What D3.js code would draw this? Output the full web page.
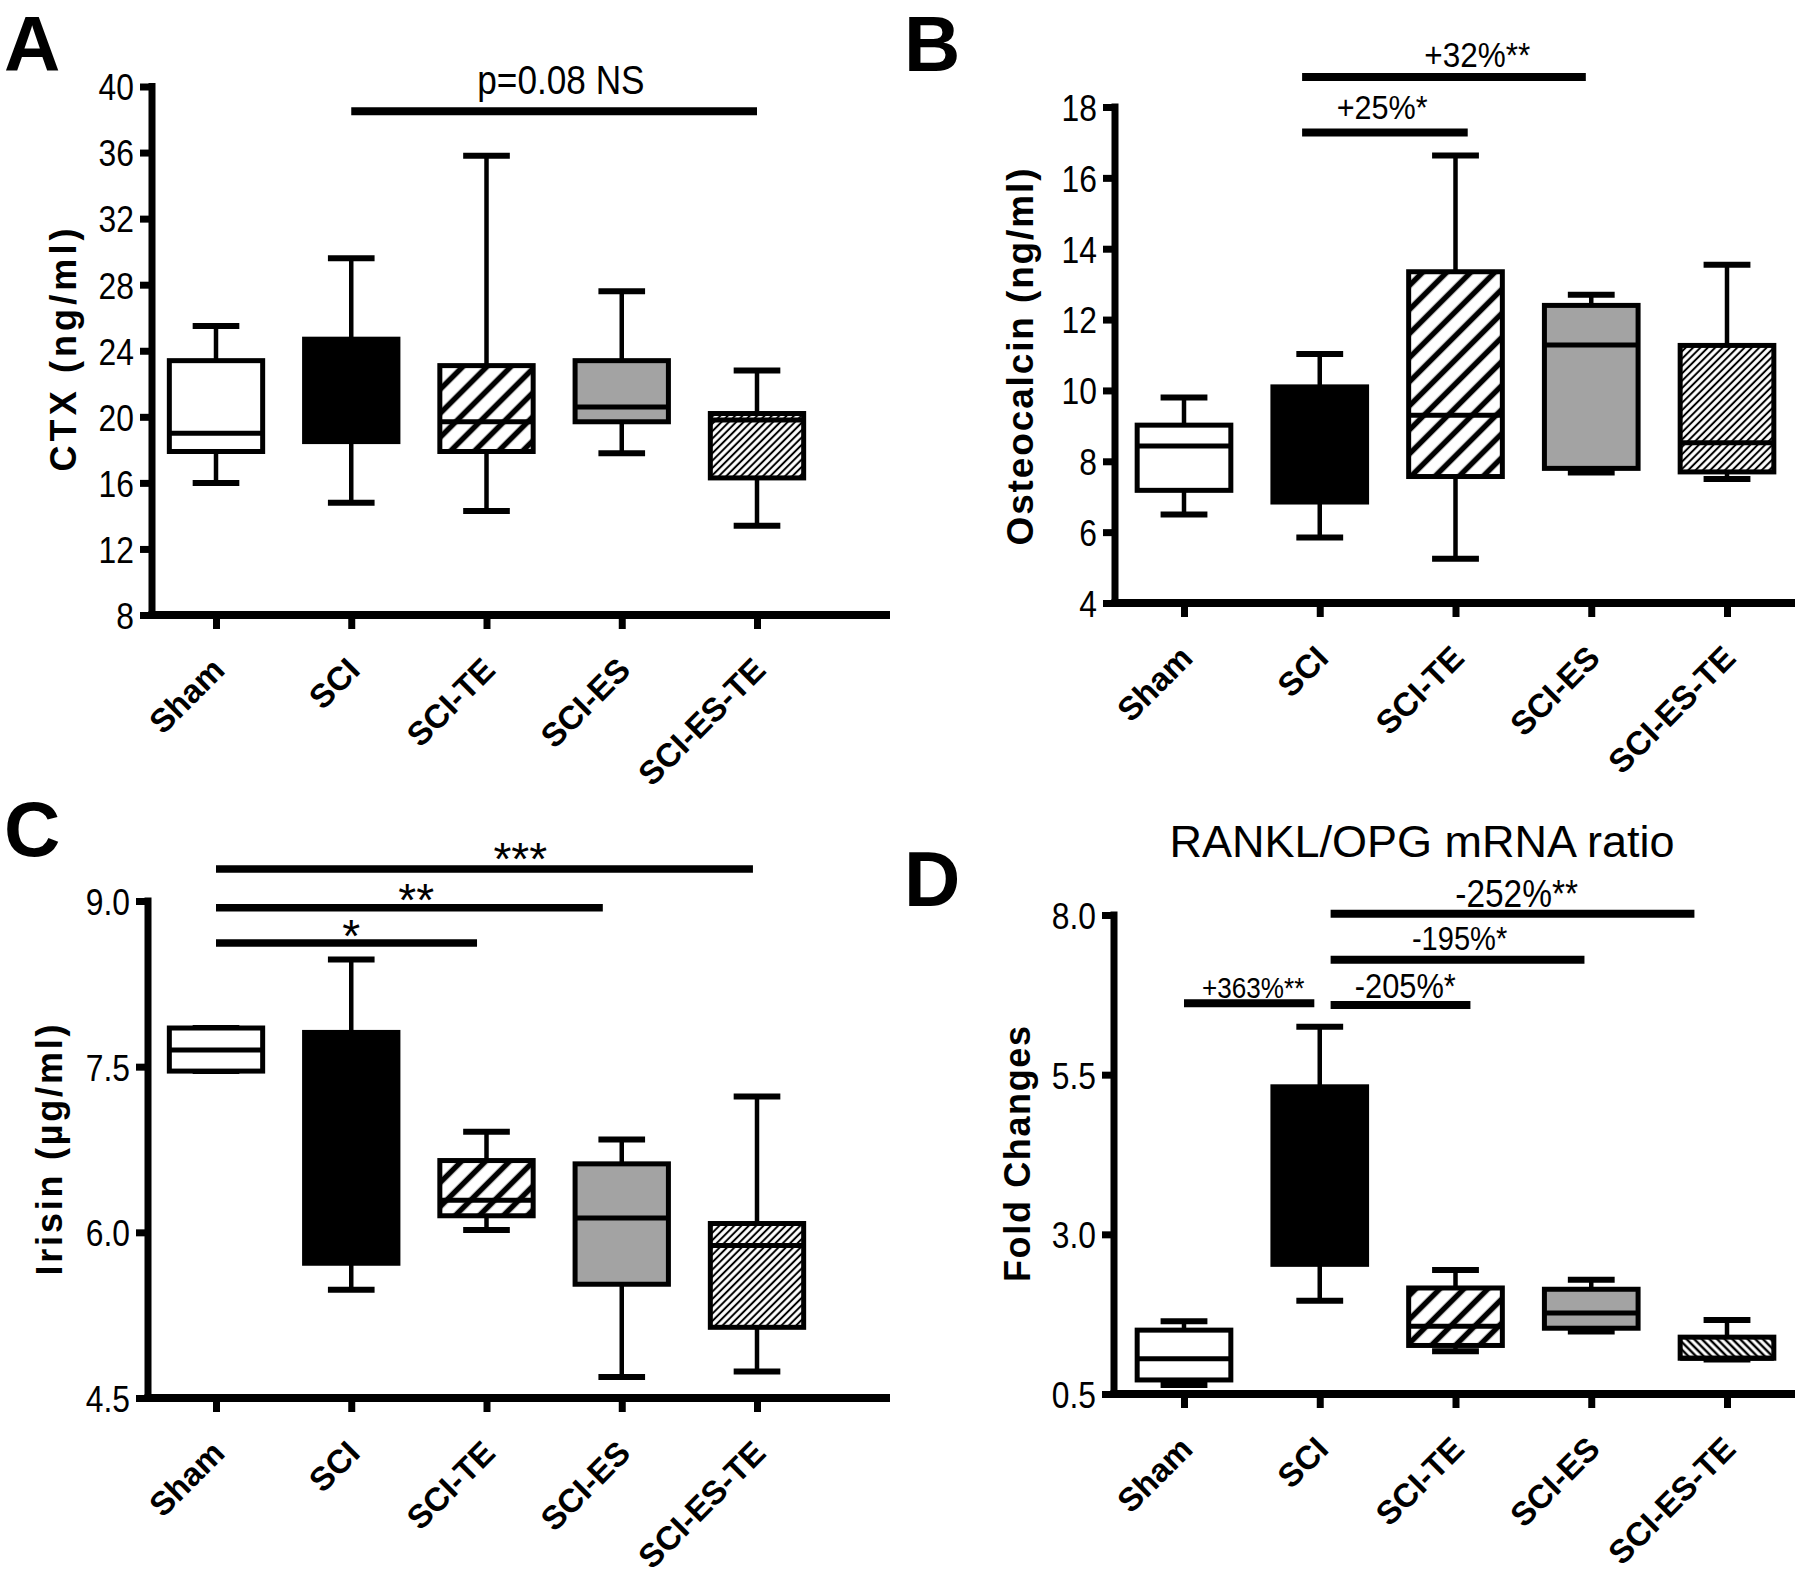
<!DOCTYPE html>
<html><head><meta charset="utf-8">
<script src="https://cdn.jsdelivr.net/npm/d3@7"></script>
<style>body{margin:0;background:#fff} svg{display:block}</style>
</head><body>
<svg id="chart" width="1800" height="1579"></svg>
<script>
// ---------------- DATA ----------------
const categories = ["Sham", "SCI", "SCI-TE", "SCI-ES", "SCI-ES-TE"];

// Panel A - CTX (ng/ml)
const ctxMin    = [16.0, 14.8, 14.3, 17.8, 13.4];
const ctxQ1     = [17.9, 18.5, 17.9, 19.7, 16.3];
const ctxMedian = [19.0, 21.0, 19.7, 20.6, 19.8];
const ctxQ3     = [23.4, 24.7, 23.1, 23.4, 20.2];
const ctxMax    = [25.5, 29.6, 35.8, 27.6, 22.8];
const ctxTicks  = [8, 12, 16, 20, 24, 28, 32, 36, 40];
const sigA = [{from: 1, to: 4, at: 38.5, labelAt: 2.55, label: "p=0.08 NS"}];

// Panel B - Osteocalcin (ng/ml)
const osteoMin    = [6.50, 5.85, 5.25, 7.68, 7.50];
const osteoQ1     = [7.18, 6.85, 7.57, 7.80, 7.70];
const osteoMedian = [8.43, 8.50, 9.30, 11.28, 8.52];
const osteoQ3     = [9.02, 10.10, 13.35, 12.40, 11.27];
const osteoMax    = [9.80, 11.03, 16.63, 12.70, 13.55];
const osteoTicks  = [4, 6, 8, 10, 12, 14, 16, 18];
const sigB = [
  {from: 0.87, to: 2.09, at: 17.28, labelAt: 1.46, label: "+25%*"},
  {from: 0.87, to: 2.96, at: 18.85, labelAt: 2.16, label: "+32%**"}
];

// Panel C - Irisin (µg/ml)
const irisinMin    = [7.46, 5.48, 6.02, 4.69, 4.74];
const irisinQ1     = [7.46, 5.72, 6.15, 5.53, 5.14];
const irisinMedian = [7.65, 6.60, 6.29, 6.13, 5.88];
const irisinQ3     = [7.85, 7.81, 6.65, 6.62, 6.08];
const irisinMax    = [7.85, 8.47, 6.91, 6.84, 7.23];
const irisinTicks  = [4.5, 6.0, 7.5, 9.0];
const sigC = [
  {from: 0, to: 1.93, at: 8.62, labelAt: 1.00, label: "*"},
  {from: 0, to: 2.86, at: 8.94, labelAt: 1.48, label: "**"},
  {from: 0, to: 3.97, at: 9.29, labelAt: 2.25, label: "***"}
];

// Panel D - RANKL/OPG mRNA ratio (fold changes)
const foldMin    = [0.64, 1.96, 1.17, 1.48, 1.04];
const foldQ1     = [0.72, 2.53, 1.26, 1.53, 1.06];
const foldMedian = [1.05, 3.60, 1.56, 1.77, 1.06];
const foldQ3     = [1.50, 5.31, 2.16, 2.14, 1.39];
const foldMax    = [1.64, 6.25, 2.44, 2.29, 1.66];
const foldTicks  = [0.5, 3.0, 5.5, 8.0];
const sigD = [
  {from: 0,    to: 0.96, at: 6.62, labelAt: 0.51, label: "+363%**"},
  {from: 1.08, to: 2.11, at: 6.59, labelAt: 1.63, label: "-205%*"},
  {from: 1.08, to: 2.95, at: 7.30, labelAt: 2.03, label: "-195%*"},
  {from: 1.08, to: 3.76, at: 8.02, labelAt: 2.45, label: "-252%**"}
];

// ---------------- DRAWING ----------------
const FONT = "'Liberation Sans', Arial, Helvetica, sans-serif";
const svg = d3.select("#chart").attr("font-family", FONT);
svg.append("rect").attr("width", 1800).attr("height", 1579).attr("fill", "#fff");
const defs = svg.append("defs");

function hatch(id, period, sw, angle) {
  const p = defs.append("pattern").attr("id", id)
    .attr("patternUnits", "userSpaceOnUse")
    .attr("width", period).attr("height", period)
    .attr("patternTransform", `rotate(${angle})`);
  p.append("rect").attr("width", period).attr("height", period).attr("fill", "#fff");
  p.append("line").attr("x1", period / 2).attr("x2", period / 2)
    .attr("y1", -1).attr("y2", period + 1)
    .attr("stroke", "#000").attr("stroke-width", sw);
}
hatch("wide", 17, 5.5, 45);
hatch("dense", 5.2, 2.0, 45);
hatch("denseBack", 5.4, 2.4, -45);

function ntext(g, x, y, str, size, anchor, sx, weight) {
  return g.append("text")
    .attr("transform", `translate(${x},${y}) scale(${sx},1)`)
    .attr("text-anchor", anchor)
    .attr("font-size", size)
    .attr("font-weight", weight || "normal")
    .attr("fill", "#000")
    .text(str);
}

function panel(o) {
  const g = svg.append("g");
  const y = d3.scaleLinear().domain([o.ticks[0], o.ticks[o.ticks.length - 1]]).range([o.yBottom, o.yTop]);
  const x = d3.scalePoint().domain(categories).range(o.xRange);
  const step = x.step();
  const catX = c => x(categories[0]) + c * step;
  const bw = step * 0.69;

  // y axis
  const yAxis = d3.axisLeft(y).tickValues(o.ticks).tickFormat(o.fmt).tickSize(12).tickPadding(0);
  const ga = g.append("g").attr("transform", `translate(${o.axisX},0)`).call(yAxis);
  ga.select(".domain").remove();
  ga.selectAll(".tick line").attr("stroke", "#000").attr("stroke-width", 7).attr("x2", -12);
  ga.selectAll(".tick text")
    .attr("x", null).attr("dy", "0.36em")
    .attr("transform", "translate(-18,0) scale(0.86,1)")
    .attr("font-size", 37).attr("font-family", FONT).attr("fill", "#000");

  // x axis
  const xAxis = d3.axisBottom(x).tickSize(14).tickPadding(0);
  const gx = g.append("g").attr("transform", `translate(0,${o.yBottom})`).call(xAxis);
  gx.select(".domain").remove();
  gx.selectAll(".tick line").attr("stroke", "#000").attr("stroke-width", 7);
  gx.selectAll(".tick text")
    .attr("y", null).attr("dy", null)
    .attr("transform", "translate(10,57) rotate(-45)")
    .attr("text-anchor", "end")
    .attr("font-size", 33).attr("font-weight", "bold")
    .attr("font-family", FONT).attr("fill", "#000");

  // axis lines
  g.append("line").attr("x1", o.axisX).attr("x2", o.axisX)
    .attr("y1", y.range()[1] - 3.5).attr("y2", o.yBottom + 4)
    .attr("stroke", "#000").attr("stroke-width", 7);
  g.append("line").attr("x1", o.axisX - 3.5).attr("x2", o.xEnd)
    .attr("y1", o.yBottom).attr("y2", o.yBottom)
    .attr("stroke", "#000").attr("stroke-width", 8);

  // box plots
  const boxes = g.selectAll("g.box").data(categories).join("g").attr("class", "box");
  boxes.append("line").attr("x1", c => x(c)).attr("x2", c => x(c))
    .attr("y1", (c, i) => y(o.max[i])).attr("y2", (c, i) => y(o.q3[i]))
    .attr("stroke", "#000").attr("stroke-width", 4.5);
  boxes.append("line").attr("x1", c => x(c)).attr("x2", c => x(c))
    .attr("y1", (c, i) => y(o.min[i])).attr("y2", (c, i) => y(o.q1[i]))
    .attr("stroke", "#000").attr("stroke-width", 4.5);
  boxes.append("line").attr("x1", c => x(c) - bw / 4).attr("x2", c => x(c) + bw / 4)
    .attr("y1", (c, i) => y(o.max[i])).attr("y2", (c, i) => y(o.max[i]))
    .attr("stroke", "#000").attr("stroke-width", 6);
  boxes.append("line").attr("x1", c => x(c) - bw / 4).attr("x2", c => x(c) + bw / 4)
    .attr("y1", (c, i) => y(o.min[i])).attr("y2", (c, i) => y(o.min[i]))
    .attr("stroke", "#000").attr("stroke-width", 6);
  boxes.append("rect")
    .attr("x", c => x(c) - bw / 2).attr("width", bw)
    .attr("y", (c, i) => y(o.q3[i]))
    .attr("height", (c, i) => y(o.q1[i]) - y(o.q3[i]))
    .attr("fill", (c, i) => o.fills[i])
    .attr("stroke", "#000").attr("stroke-width", 5);
  boxes.append("line").attr("x1", c => x(c) - bw / 2).attr("x2", c => x(c) + bw / 2)
    .attr("y1", (c, i) => y(o.median[i])).attr("y2", (c, i) => y(o.median[i]))
    .attr("stroke", "#000").attr("stroke-width", 5);

  // significance bars
  o.sig.forEach((s, k) => {
    const st = o.sigStyle[k];
    g.append("line").attr("x1", catX(s.from)).attr("x2", catX(s.to))
      .attr("y1", y(s.at)).attr("y2", y(s.at))
      .attr("stroke", "#000").attr("stroke-width", st.w);
    ntext(g, catX(s.labelAt), y(s.at) + st.dy, s.label, st.size, "middle", st.sx);
  });

  // y label
  g.append("text")
    .attr("transform", `translate(${o.labelX},${o.labelY}) rotate(-90)`)
    .attr("text-anchor", "middle")
    .attr("font-size", o.labelSize).attr("font-weight", "bold")
    .attr("textLength", o.labelLen).attr("lengthAdjust", "spacing")
    .text(o.label);

  // panel letter
  g.append("text").attr("x", o.letterX).attr("y", o.letterY)
    .attr("font-size", 78).attr("font-weight", "bold").text(o.letter);
  return g;
}

const f0 = d3.format("d"), f1 = d3.format(".1f");

panel({
  letter: "A", letterX: 4, letterY: 71,
  ticks: ctxTicks, fmt: f0, yTop: 86.5, yBottom: 615, axisX: 152, xRange: [216, 757], xEnd: 890,
  min: ctxMin, q1: ctxQ1, median: ctxMedian, q3: ctxQ3, max: ctxMax,
  fills: ["#fff", "#000", "url(#wide)", "#a3a3a3", "url(#dense)"],
  sig: sigA, sigStyle: [{size: 40, dy: -17, sx: 0.88, w: 8}],
  label: "CTX (ng/ml)", labelX: 76, labelY: 350, labelSize: 36, labelLen: 243
});

panel({
  letter: "B", letterX: 904, letterY: 71,
  ticks: osteoTicks, fmt: f0, yTop: 107, yBottom: 603, axisX: 1115, xRange: [1184, 1727], xEnd: 1795,
  min: osteoMin, q1: osteoQ1, median: osteoMedian, q3: osteoQ3, max: osteoMax,
  fills: ["#fff", "#000", "url(#wide)", "#a3a3a3", "url(#dense)"],
  sig: sigB, sigStyle: [{size: 34, dy: -14, sx: 0.9, w: 8}, {size: 35, dy: -10, sx: 0.9, w: 8}],
  label: "Osteocalcin (ng/ml)", labelX: 1033, labelY: 357, labelSize: 37, labelLen: 377
});

panel({
  letter: "C", letterX: 4, letterY: 856,
  ticks: irisinTicks, fmt: f1, yTop: 901, yBottom: 1398, axisX: 148, xRange: [216, 757], xEnd: 890,
  min: irisinMin, q1: irisinQ1, median: irisinMedian, q3: irisinQ3, max: irisinMax,
  fills: ["#fff", "#000", "url(#wide)", "#a3a3a3", "url(#dense)"],
  sig: sigC, sigStyle: [{size: 46, dy: 9, sx: 1, w: 7.5}, {size: 46, dy: 8, sx: 1, w: 7.5}, {size: 46, dy: 6, sx: 1, w: 7.5}],
  label: "Irisin (\u00b5g/ml)", labelX: 62, labelY: 1150, labelSize: 36, labelLen: 251
});

panel({
  letter: "D", letterX: 904, letterY: 906,
  ticks: foldTicks, fmt: f1, yTop: 915, yBottom: 1394, axisX: 1114, xRange: [1184, 1727], xEnd: 1795,
  min: foldMin, q1: foldQ1, median: foldMedian, q3: foldQ3, max: foldMax,
  fills: ["#fff", "#000", "url(#wide)", "#a3a3a3", "url(#denseBack)"],
  sig: sigD, sigStyle: [{size: 29, dy: -5, sx: 0.9, w: 8}, {size: 35, dy: -7, sx: 0.88, w: 8},
                        {size: 33, dy: -10, sx: 0.88, w: 8}, {size: 38, dy: -7, sx: 0.88, w: 8}],
  label: "Fold Changes", labelX: 1030, labelY: 1154, labelSize: 36, labelLen: 256
});

// Panel D title
svg.append("text").attr("x", 1422).attr("y", 857).attr("text-anchor", "middle")
  .attr("font-size", 45).attr("fill", "#000").text("RANKL/OPG mRNA ratio");
</script>
</body></html>
